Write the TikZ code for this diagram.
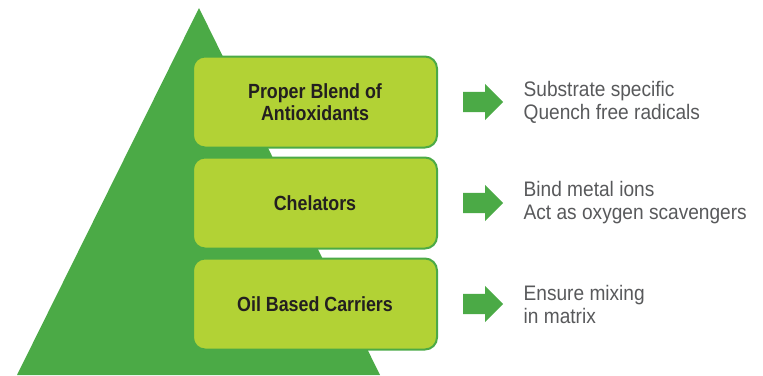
\documentclass[tikz,border=0pt]{standalone}
\usepackage{fontspec}
\setmainfont{Liberation Sans}
\newfontfamily\layerfont{Liberation Sans}[FakeStretch=0.87]
\newfontfamily\notefont{Liberation Sans}[FakeStretch=0.91]
\usetikzlibrary{positioning}
\usetikzlibrary{shapes.arrows}
\definecolor{MyDark}{HTML}{4BAA46}
\definecolor{MyLime}{HTML}{B2D235}
\definecolor{MyText}{HTML}{231F20}
\definecolor{MyNote}{HTML}{58595B}
\tikzset{
    layer/.style={
      rectangle,
      fill=MyLime,
      draw=MyDark,
      line width=2pt,
      rounded corners=12pt,
      minimum width=244pt,
      minimum height=91pt,
      outer sep=0pt,
      align=center,
      text=MyText,
      font=\layerfont\bfseries\fontsize{20.5}{22.5}\selectfont
    },
    pointer/.style={
      single arrow,
      fill=MyDark,
      draw=none,
      inner xsep=0pt,
      inner ysep=10pt,
      minimum height=40pt,
      single arrow head extend=8pt,
      single arrow head indent=0pt
    },
    note/.style={
      align=left,
      inner sep=0pt,
      text=MyNote,
      font=\notefont\fontsize{21}{23}\selectfont
    },
}

\begin{document}
\begin{tikzpicture}[x=1pt,y=-1pt]
    \useasboundingbox (0,0) rectangle (763,375);

    % pyramid
    \fill[MyDark] (17,375) -- (199,8) -- (380,375) -- cycle;

    % layers
    \node[layer] at (315,102) (blend) {Proper Blend of\\Antioxidants};
    \node[layer,below=10pt of blend] (chel) {Chelators};
    \node[layer,below=10pt of chel] (oil) {Oil Based Carriers};

    % arrows
    \node[pointer,right=26pt of blend] (arrA) {};
    \node[pointer,right=26pt of chel] (arrB) {};
    \node[pointer,right=26pt of oil] (arrC) {};

    % notes
    \node[note,right=20pt of arrA] (noteA) {Substrate specific\\Quench free radicals};
    \node[note,right=20pt of arrB] (noteB) {Bind metal ions\\Act as oxygen scavengers};
    \node[note,right=20pt of arrC] (noteC) {Ensure mixing\\in matrix};

\end{tikzpicture}
\end{document}
